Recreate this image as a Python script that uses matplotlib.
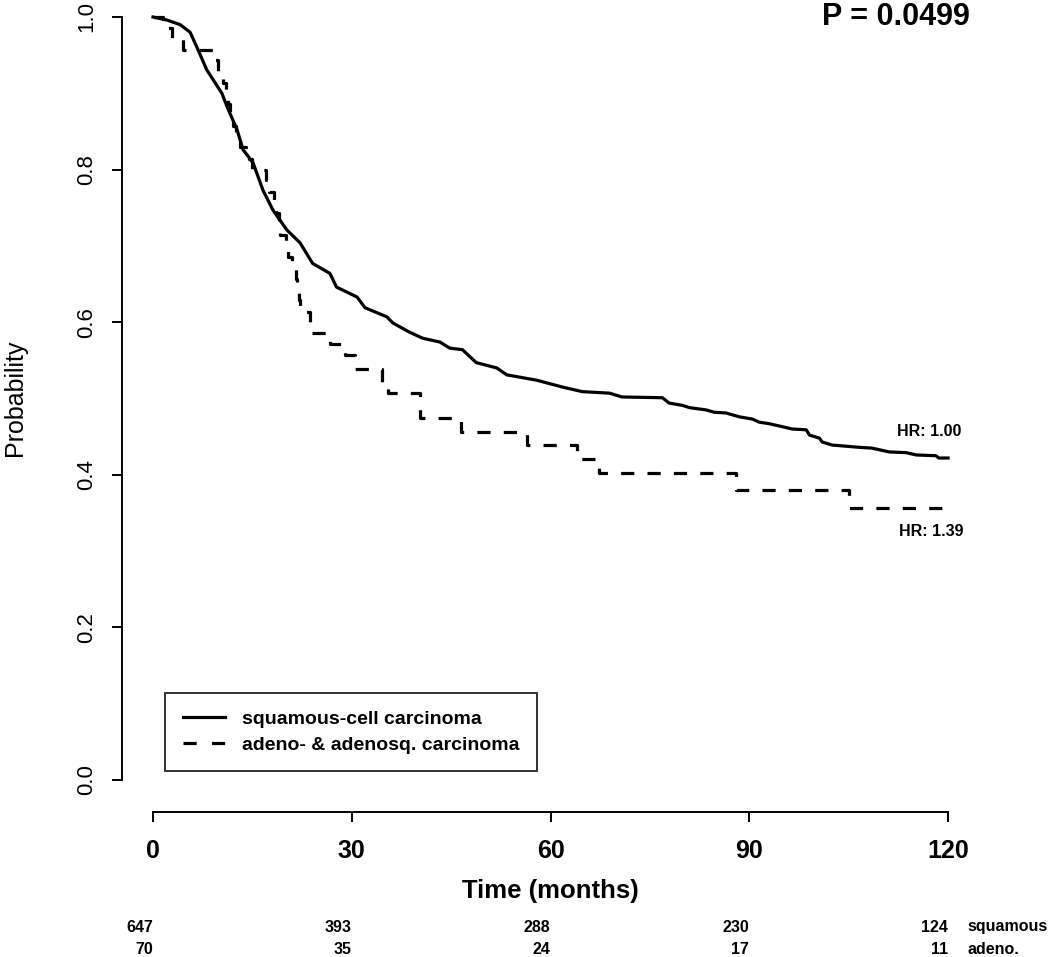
import matplotlib
matplotlib.use("Agg")
import matplotlib.pyplot as plt
from matplotlib.lines import Line2D

plt.rcParams['font.family'] = ['Liberation Sans', 'DejaVu Sans']
plt.rcParams['lines.scale_dashes'] = False

# --- DATA ---
# squamous-cell carcinoma, traced survival curve
sq_time = [0, 2.1, 4.1, 5.6, 6.6, 8.1, 10.4, 11.2, 12.7, 13.6, 15.1, 16.6, 18.1,
           20.2, 22.2, 24.1, 26.7, 27.7, 30.8, 32.0, 35.3, 36.2, 38.7, 40.7,
           43.3, 44.8, 46.7, 48.8, 51.9, 53.4, 57.9, 61.8, 64.8, 68.9, 70.8,
           76.9, 77.9, 79.9, 81.0, 83.5, 84.7, 86.5, 88.5, 90.5, 91.5, 93.0,
           95.0, 96.5, 98.6, 99.1, 100.6, 101.0, 102.5, 106.6, 108.5, 111.1,
           113.7, 115.2, 118.2, 118.6, 120]
sq_surv = [1.0, 0.996, 0.990, 0.980, 0.961, 0.931, 0.900, 0.882, 0.852, 0.826,
           0.809, 0.773, 0.747, 0.721, 0.704, 0.677, 0.664, 0.646, 0.633, 0.619,
           0.607, 0.599, 0.587, 0.579, 0.574, 0.566, 0.564, 0.547, 0.540, 0.531,
           0.524, 0.515, 0.509, 0.507, 0.502, 0.501, 0.494, 0.491, 0.488, 0.485,
           0.482, 0.481, 0.476, 0.473, 0.469, 0.467, 0.463, 0.460, 0.459, 0.452,
           0.448, 0.443, 0.439, 0.436, 0.435, 0.430, 0.429, 0.426, 0.425, 0.422,
           0.422]

# adeno- & adenosq. carcinoma, step times and survival after each step
ad_time = [0, 1.5, 2.8, 4.5, 9.3, 9.8, 10.5, 11.0, 11.3, 11.6, 12.0, 12.5, 13.1,
           14.5, 15.0, 17.0, 17.5, 18.2, 18.5, 19.0, 19.2, 20.0, 20.4, 21.0,
           21.6, 21.8, 22.0, 22.2, 23.7, 24.0, 26.7, 29.0, 30.5, 34.5, 35.5,
           40.3, 46.5, 56.5, 64.0, 67.3, 88.0, 105.0, 120]
ad_surv = [1.0, 0.986, 0.971, 0.957, 0.943, 0.929, 0.914, 0.900, 0.886, 0.871,
           0.857, 0.843, 0.829, 0.814, 0.800, 0.786, 0.771, 0.757, 0.743, 0.729,
           0.714, 0.700, 0.686, 0.671, 0.657, 0.643, 0.629, 0.614, 0.600, 0.586,
           0.571, 0.557, 0.539, 0.522, 0.507, 0.474, 0.456, 0.439, 0.421, 0.402,
           0.380, 0.357, 0.357]

risk_times = [0, 30, 60, 90, 120]
risk_sq = [647, 393, 288, 230, 124]
risk_ad = [70, 35, 24, 17, 11]
labels = ['squamous-cell carcinoma', 'adeno- & adenosq. carcinoma']

W, H = 1050, 957
fig = plt.figure(figsize=(W / 100, H / 100), dpi=100)
# data region in pixels: x 153..948, y 17..780
ax = fig.add_axes([153 / W, 1 - 780 / H, (948 - 153) / W, (780 - 17) / H])
ax.set_xlim(0, 120)
ax.set_ylim(0, 1)

ax.plot(sq_time, sq_surv, color='black', lw=2.3, clip_on=False)
ax.plot(ad_time, ad_surv, color='black', lw=2.3, drawstyle='steps-post',
        dashes=(9.5, 9.5), clip_on=False)

# R-like detached axes
for s in ['top', 'right']:
    ax.spines[s].set_visible(False)
ax.spines['left'].set_position(('outward', 22.3))
ax.spines['bottom'].set_position(('outward', 23))
ax.spines['left'].set_linewidth(1.4)
ax.spines['bottom'].set_linewidth(1.4)

ax.set_xticks(risk_times)
ax.set_yticks([0, 0.2, 0.4, 0.6, 0.8, 1.0])
ax.set_yticklabels(['0.0', '0.2', '0.4', '0.6', '0.8', '1.0'])
ax.tick_params(axis='both', length=7.2, width=1.4, color='black')
ax.tick_params(axis='x', pad=12, labelsize=18)
ax.tick_params(axis='y', pad=11, labelsize=16)
for lab in ax.get_xticklabels():
    lab.set_fontweight('bold')
for lab in ax.get_yticklabels():
    lab.set_rotation(90)
    lab.set_va('center')

fig.text(550 / W, 1 - 891 / H, 'Time (months)', ha='center', va='center',
         fontsize=18.5, fontweight='bold')
fig.text(15 / W, 1 - 398 / H, 'Probability', ha='center', va='center',
         rotation=90, fontsize=18)
fig.text(970 / W, 1 - 2 / H, 'P = 0.0499', ha='right', va='top',
         fontsize=22, fontweight='bold')

# hazard ratio labels
fig.text(929 / W, 1 - 432 / H, 'HR: 1.00', ha='center', va='center',
         fontsize=11.5, fontweight='bold')
fig.text(931 / W, 1 - 531 / H, 'HR: 1.39', ha='center', va='center',
         fontsize=11.5, fontweight='bold')

# numbers at risk, right-aligned under each tick
for t, a, b in zip(risk_times, risk_sq, risk_ad):
    xf = ax.transData.transform((t, 0))[0] / W
    fig.text(xf, 1 - 927 / H, str(a), ha='right', va='center',
             fontsize=11.5, fontweight='bold')
    fig.text(xf, 1 - 949 / H, str(b), ha='right', va='center',
             fontsize=11.5, fontweight='bold')
fig.text(967 / W, 1 - 927 / H, 'squamous', ha='left', va='center',
         fontsize=11.5, fontweight='bold')
fig.text(967 / W, 1 - 949 / H, 'adeno.', ha='left', va='center',
         fontsize=11.5, fontweight='bold')

handles = [Line2D([], [], color='black', lw=2.3),
           Line2D([], [], color='black', lw=2.3, dashes=(9.5, 11))]
leg = fig.legend(handles, labels, loc='upper left',
                 bbox_to_anchor=(165 / W, 1 - 693 / H),
                 frameon=True, fancybox=False, edgecolor='black',
                 prop={'size': 14, 'weight': 'bold'},
                 handlelength=2.2, handletextpad=0.85, borderpad=0.9,
                 labelspacing=0.4, borderaxespad=0)
leg.get_frame().set_linewidth(1.4)

fig.savefig('out.png', dpi=100)
